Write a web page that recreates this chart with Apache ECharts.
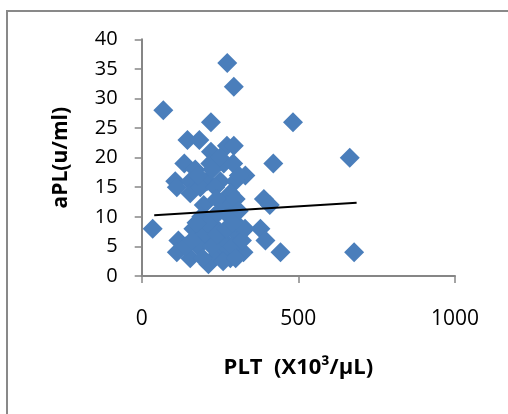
<!DOCTYPE html>
<html><head><meta charset="utf-8">
<script src="https://cdn.jsdelivr.net/npm/echarts@6/dist/echarts.min.js"></script>
<style>html,body{margin:0;padding:0;background:#fff}#c{width:508px;height:414px}</style>
</head><body><div id="c"></div>
<script>
// PLT (x10^3/uL) vs aPL (u/ml)
const pltValues = [69,273,294,221,483,146,184,221,272,294,664,420,136,35,390,409,379,395,443,678,
  171,219,262,292,331,107,155,208,251,299,112,155,187,235,283,198,272,240,300,225,180,250,310,
  165,240,219,262,117,112,155,213,304,325,283,190,230,280,300,200,250,180,140,270,230,260,290,320,210,175,250,310,225,195,300,160,240,330,270,290];
const aplValues = [28,36,32,26,26,23,23,21,22,22,20,19,19,8,13,12,8,6,4,4,
  18,19,19,19,17,16,16,16,16,16,15,14,15,15,14,12,12,13,13,18,17,20,17,
  8,8,6,6,6,4,3,2,7,4,3,10,10,10,9,7,4,5,5,5,3,2.5,5,6,9,9,11,11,5,3,3,6,7,8,8,9];
const trendX = [40, 686];
const trendY = [10.25, 12.38];
const xTicks = [0, 500, 1000];
const yTicks = [0, 5, 10, 15, 20, 25, 30, 35, 40];

const points = pltValues.map((v, i) => [v, aplValues[i]]);
const trend = trendX.map((v, i) => [v, trendY[i]]);
const FONT = 'Open Sans';
const chart = echarts.init(document.getElementById('c'), null, {renderer: 'canvas'});
chart.setOption({
  animation: false,
  backgroundColor: '#fff',
  graphic: [{type: 'rect', shape: {x: 7, y: 11, width: 700, height: 600},
    style: {fill: 'none', stroke: '#898989', lineWidth: 2}, z: 0}],
  grid: {left: 141.7, right: 53, top: 39.3, bottom: 138},
  xAxis: {
    type: 'value', min: xTicks[0], max: xTicks[xTicks.length - 1], interval: 500,
    splitLine: {show: false},
    axisLine: {lineStyle: {color: '#868686', width: 2}},
    axisTick: {length: 7, lineStyle: {color: '#868686', width: 1.5}},
    axisLabel: {margin: 33, fontFamily: FONT, fontSize: 21, color: '#000',
      formatter: v => String(v)},
    name: 'PLT  (X10³/µL)', nameLocation: 'middle', nameGap: 81,
    nameTextStyle: {fontFamily: FONT, fontSize: 22, fontWeight: 'bold', color: '#000'}
  },
  yAxis: {
    type: 'value', min: yTicks[0], max: yTicks[yTicks.length - 1], interval: 5,
    splitLine: {show: false},
    axisLine: {show: true, lineStyle: {color: '#868686', width: 2}},
    axisTick: {show: true, length: 7, lineStyle: {color: '#868686', width: 1.5}},
    axisLabel: {margin: 24, fontFamily: FONT, fontSize: 20, color: '#000'},
    name: 'aPL(u/ml)', nameLocation: 'middle', nameGap: 70, nameRotate: 90,
    nameTextStyle: {fontFamily: FONT, fontSize: 21, fontWeight: 'bold', color: '#000'}
  },
  series: [
    {type: 'scatter', data: points, symbol: 'diamond', symbolSize: 20,
     itemStyle: {color: '#4A7EBB', opacity: 1}, z: 2},
    {type: 'line', data: trend, showSymbol: false, symbol: 'none',
     lineStyle: {color: '#000', width: 2}, z: 3}
  ]
});
</script></body></html>
